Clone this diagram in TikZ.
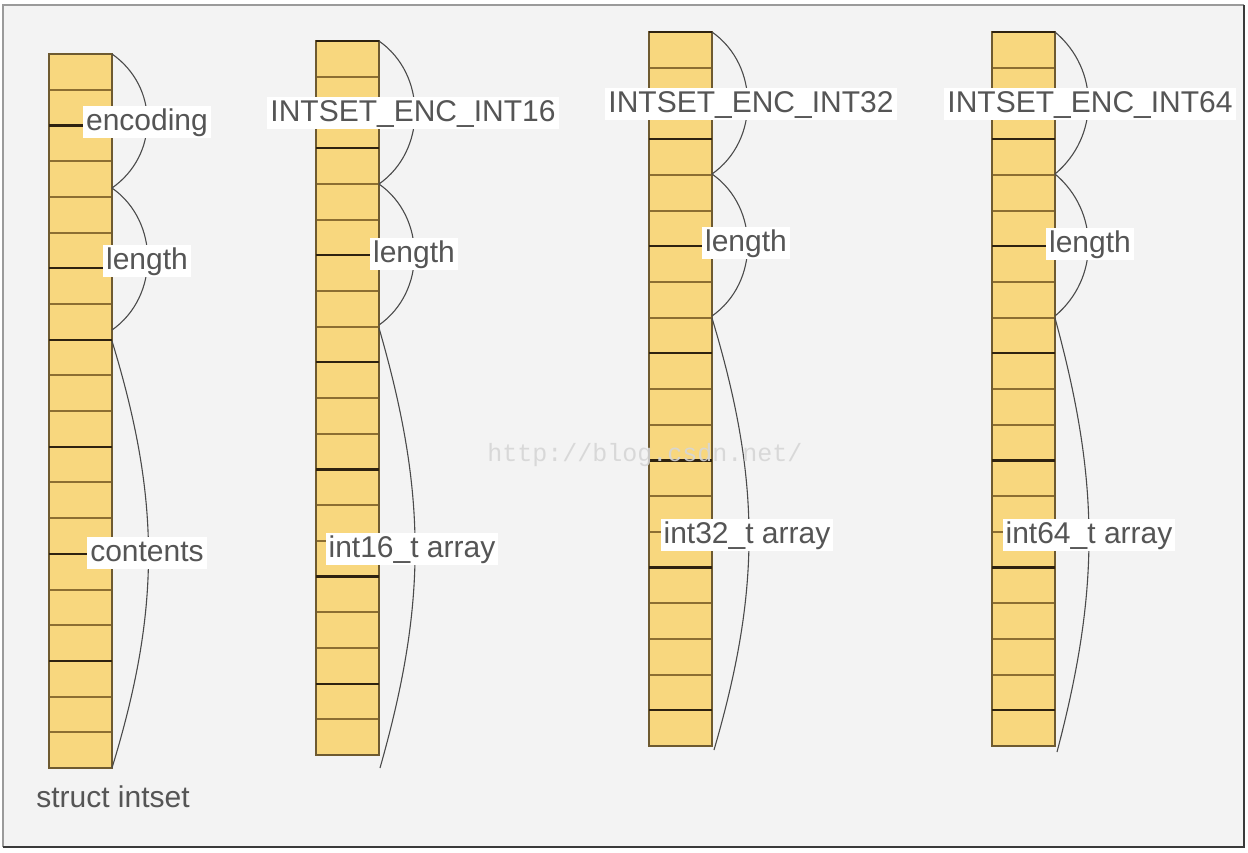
\documentclass[tikz,border=0pt]{standalone}
\usepackage{fontspec}
\setmainfont{Liberation Sans}
\newfontfamily\wmfont{Liberation Mono}
\definecolor{bgcol}{HTML}{F3F3F3}
\definecolor{cellyellow}{HTML}{F8D77E}
\definecolor{cellborder}{HTML}{6E5A30}
\definecolor{sepbrown}{HTML}{8C6E32}
\definecolor{sepdark}{HTML}{2E2210}
\definecolor{arcgray}{HTML}{4A4A4A}
\definecolor{textgray}{HTML}{555555}
\definecolor{framegray}{HTML}{9A9A9A}
\definecolor{framedark}{HTML}{3A3A3A}
\definecolor{wmgray}{HTML}{D6D6D6}
\newcommand\drawcol[5]{%
  \fill[cellyellow] (#1,#3) rectangle (#2,#4);
  \foreach \i in {1,...,19}{
    \pgfmathsetmacro\yy{#3+\i*(#4-#3)/20}
    \draw[sepline] (#1,\yy) -- (#2,\yy);
  }
  \draw[colborder] (#1,#3) rectangle (#2,#4);
  \foreach \i in {#5}{
    \pgfmathsetmacro\yy{#3+\i*(#4-#3)/20}
    \draw[darksep] (#1,\yy) -- (#2,\yy);
  }
}
\begin{document}
\begin{tikzpicture}[x=1pt,y=-1pt,
  sepline/.style={draw=sepbrown, line width=2pt},
  darksep/.style={draw=sepdark, line width=2.2pt},
  colborder/.style={draw=cellborder, line width=1.4pt},
  brace/.style={draw=arcgray, line width=1.1pt},
  lbl/.style={fill=white, text=textgray, font=\fontsize{30}{36}\selectfont,
    inner xsep=3pt, inner ysep=2pt, text height=22pt, text depth=6pt},
  plain/.style={text=textgray, font=\fontsize{30}{36}\selectfont, inner sep=0pt},
  wm/.style={text=wmgray, font=\wmfont\fontsize{25}{30}\selectfont, inner sep=0pt, opacity=0.9},
]
\useasboundingbox (0,0) rectangle (1248,852);
\fill[white] (0,0) rectangle (1248,852);
\fill[bgcol] (3,5) rectangle (1244,847);
\draw[framegray, line width=2pt] (3,847) -- (3,5) -- (1244,5);
\draw[framedark, line width=2.4pt] (3,847) -- (1244,847) -- (1244,5);

% columns
\drawcol{49}{112}{54}{768}{2,6,8,11,14,17}
\drawcol{316}{379}{41}{755}{0,3,6,9,12,15,18}
\drawcol{649}{712}{32}{746}{0,3,6,9,12,15,19}
\drawcol{992}{1055}{32}{746}{0,3,6,9,12,15,19}

% brace endpoints
\coordinate (a1) at (112,54);  \coordinate (a2) at (112,188);
\coordinate (a3) at (112,330); \coordinate (a4) at (112,341);
\coordinate (a5) at (112,768);
\coordinate (b1) at (379,41);  \coordinate (b2) at (379,184);
\coordinate (b3) at (379,325); \coordinate (b4) at (379,328);
\coordinate (b5) at (380,768);
\coordinate (c1) at (712,32);  \coordinate (c2) at (712,174);
\coordinate (c3) at (712,316); \coordinate (c4) at (712,318);
\coordinate (c5) at (714,750);
\coordinate (d1) at (1055,32);  \coordinate (d2) at (1055,174);
\coordinate (d3) at (1055,316); \coordinate (d4) at (1055,318);
\coordinate (d5) at (1057,752);

\draw[brace] (a1) to[bend left=55, looseness=1.1] (a2);
\draw[brace] (a2) to[bend left=55, looseness=1.05] (a3);
\draw[brace] (a4) to[bend left=17] (a5);
\draw[brace] (b1) to[bend left=55, looseness=1.05] (b2);
\draw[brace] (b2) to[bend left=55, looseness=1.05] (b3);
\draw[brace] (b4) to[bend left=16] (b5);
\draw[brace] (c1) to[bend left=55, looseness=1.05] (c2);
\draw[brace] (c2) to[bend left=55, looseness=1.05] (c3);
\draw[brace] (c4) to[bend left=16.5] (c5);
\draw[brace] (d1) to[bend left=50, looseness=1.05] (d2);
\draw[brace] (d2) to[bend left=50, looseness=1.05] (d3);
\draw[brace] (d4) to[bend left=15] (d5);

% labels
\node[lbl] (enc1) at (147,122) {encoding};
\node[lbl] (len1) at (147,261) {length};
\node[lbl] (con1) at (147,553) {contents};
\node[plain] (name1) at (113,797) {struct intset};
\node[lbl] (enc2) at (413,113) {INTSET\_ENC\_INT16};
\node[lbl] (len2) at (414,254) {length};
\node[lbl] (arr2) at (412,549) {int16\_t array};
\node[lbl] (enc3) at (751,104) {INTSET\_ENC\_INT32};
\node[lbl] (len3) at (746,243) {length};
\node[lbl] (arr3) at (747,535) {int32\_t array};
\node[lbl] (enc4) at (1090,104) {INTSET\_ENC\_INT64};
\node[lbl] (len4) at (1090,244) {length};
\node[lbl] (arr4) at (1089,535) {int64\_t array};

\node[wm] (wmark) at (645,455) {http://blog.csdn.net/};
\end{tikzpicture}
\end{document}
